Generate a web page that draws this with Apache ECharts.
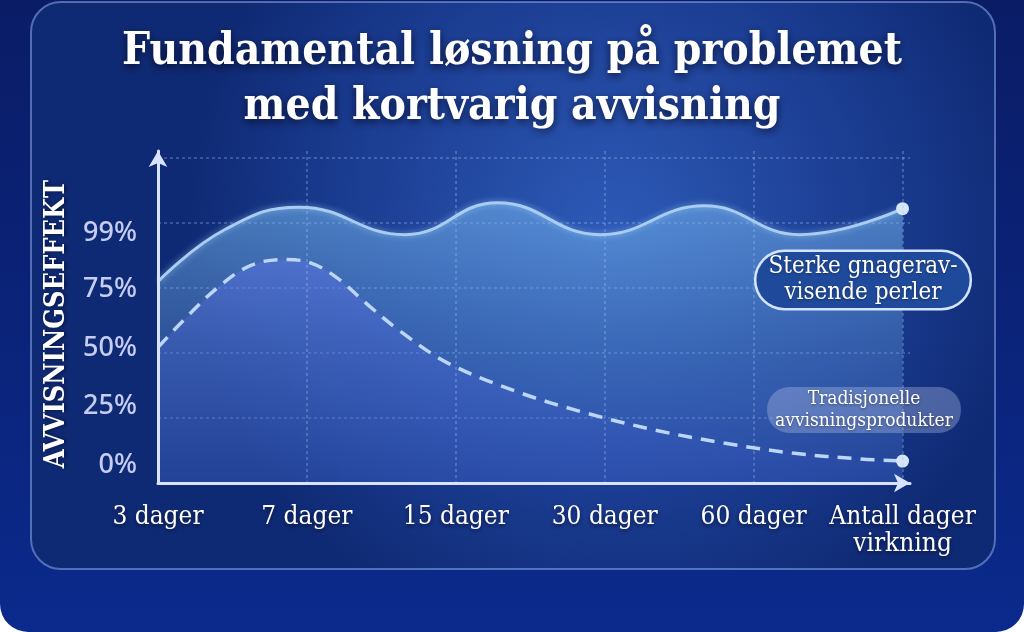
<!DOCTYPE html>
<html><head><meta charset="utf-8">
<script src="https://cdn.jsdelivr.net/npm/echarts@6/dist/echarts.min.js"></script>
<style>html,body{margin:0;padding:0;background:#ffffff;}#c{width:1024px;height:632px;}</style>
</head><body><div id="c"></div>
<script>
const titleText = 'Fundamental løsning på problemet\nmed kortvarig avvisning';
const yAxisName = 'AVVISNINGSEFFEKT';
const categories = ['3 dager', '7 dager', '15 dager', '30 dager', '60 dager', 'Antall dager\nvirkning'];
const yTickValues = [0, 25, 50, 75, 99];
const strongLabel = 'Sterke gnagerav-\nvisende perler';
const tradLabel = 'Tradisjonelle\navvisningsprodukter';

// x = position along the category axis (0 = 3 dager ... 5 = end), y = effect in %
const strongX = [0, 0.45, 0.95, 1.66, 2.28, 2.97, 3.67, 4.31, 5];
const strongY = [78.3, 100.5, 110.0, 98.3, 111.9, 98.3, 110.6, 98.3, 109.4];
const tradX = [0, 0.17, 0.40, 0.62, 0.84, 1.02, 1.20, 1.40, 1.62, 1.95, 2.42, 2.88, 3.34, 3.80, 4.26, 4.72, 5];
const tradY = [50.2, 61.7, 75.7, 85.1, 87.7, 86.4, 80.0, 68.9, 57.4, 43.4, 31.1, 22.1, 14.9, 9.4, 5.1, 2.6, 1.7];

const strongData = strongX.map((x, i) => [x, strongY[i]]);
const tradData = tradX.map((x, i) => [x, tradY[i]]);

const chart = echarts.init(document.getElementById('c'), null, {renderer: 'canvas'});
const serif = 'DejaVu Serif Condensed';
const gridLine = {show: true, lineStyle: {color: 'rgba(170,195,245,0.38)', width: 1.5, type: [3, 3]}, showMinLine: false, showMaxLine: false};

chart.setOption({
  backgroundColor: 'transparent',
  animation: false,
  graphic: [
    {type: 'rect', z: -20, shape: {x: 0, y: 0, width: 1024, height: 632, r: [0, 0, 28, 28]},
     style: {fill: new echarts.graphic.LinearGradient(0, 0, 0, 1, [{offset: 0, color: '#0a1c66'}, {offset: 1, color: '#0b2a8c'}])}, silent: true},
    {type: 'rect', z: -19, shape: {x: 31, y: 2, width: 964, height: 567, r: 30},
     style: {fill: new echarts.graphic.RadialGradient(0.6, 0.4, 0.75, [{offset: 0, color: '#2d5ab6'}, {offset: 0.6, color: '#1b3d92'}, {offset: 1, color: '#0f2a74'}]),
       stroke: 'rgba(140,170,235,0.55)', lineWidth: 2}, silent: true},
    {type: 'text', z: 50, x: 57, y: 324, rotation: Math.PI / 2,
     style: {text: yAxisName, fill: '#ffffff', font: 'bold 27px "DejaVu Serif Condensed"', align: 'center', verticalAlign: 'middle',
       textShadowColor: 'rgba(0,0,20,0.6)', textShadowBlur: 4, textShadowOffsetX: 2}},
    {type: 'text', z: 50, x: 863, y: 280,
     style: {text: strongLabel, fill: '#ffffff', font: '24px "DejaVu Serif Condensed"', align: 'center', verticalAlign: 'middle', lineHeight: 26,
       backgroundColor: '#1f4a9c', borderColor: '#d4e4ff', borderWidth: 2.5, borderRadius: 28, padding: [2, 12, 2, 12],
       textShadowColor: 'rgba(0,0,0,0.4)', textShadowBlur: 3, textShadowOffsetY: 1}},
    {type: 'text', z: 50, x: 864, y: 410,
     style: {text: tradLabel, fill: '#ffffff', font: '19px "DejaVu Serif Condensed"', align: 'center', verticalAlign: 'middle', lineHeight: 22,
       backgroundColor: 'rgba(170,185,225,0.38)', borderRadius: 22, padding: [1, 8, 1, 8],
       textShadowColor: 'rgba(0,0,0,0.4)', textShadowBlur: 3, textShadowOffsetY: 1}}
  ],
  title: {
    text: titleText, left: 'center', top: 20,
    textStyle: {fontFamily: serif, fontWeight: 'bold', fontSize: 44, lineHeight: 55, color: '#ffffff',
      textShadowColor: 'rgba(0,0,20,0.7)', textShadowBlur: 8, textShadowOffsetY: 3}
  },
  grid: {left: 158, right: 1024 - 910, top: 151, bottom: 632 - 483, containLabel: false},
  xAxis: {
    type: 'value', min: 0, max: 5.05, interval: 1, z: 5,
    axisLine: {show: true, onZero: false, symbol: ['none', 'arrow'], symbolSize: [14, 16], lineStyle: {color: '#d8e4ff', width: 3}},
    axisTick: {show: false},
    splitLine: gridLine,
    axisLabel: {
      margin: 21, color: '#ffffff', fontFamily: serif, fontSize: 26, lineHeight: 27,
      textShadowColor: 'rgba(0,0,20,0.6)', textShadowBlur: 4, textShadowOffsetY: 2,
      formatter: v => (Number.isInteger(v) && categories[v] !== undefined) ? categories[v] : '',
      showMaxLabel: false
    }
  },
  yAxis: [
    {
      type: 'value', min: -7.66, max: 134.0, z: 5,
      axisLine: {show: true, onZero: false, symbol: ['none', 'arrow'], symbolSize: [14, 16], lineStyle: {color: '#d8e4ff', width: 3}},
      axisTick: {show: false},
      splitLine: {show: false},
      axisLabel: {customValues: yTickValues, formatter: v => v + '%', margin: 21, color: '#c6cdf2', fontFamily: 'Noto Sans', fontWeight: 500, fontSize: 27}
    },
    {
      type: 'value', min: 0, max: 5.11, interval: 1, position: 'left',
      axisLine: {show: false}, axisTick: {show: false}, axisLabel: {show: false},
      splitLine: gridLine
    }
  ],
  series: [
    {
      type: 'line', name: 'Sterke', data: strongData, smooth: 0.45, yAxisIndex: 0, z: 3,
      symbol: 'circle', symbolSize: (v, p) => p.dataIndex === strongData.length - 1 ? 13 : 0,
      itemStyle: {color: '#d6e6fa'},
      lineStyle: {color: '#a9cdf2', width: 3, shadowColor: 'rgba(170,215,255,0.6)', shadowBlur: 6},
      areaStyle: {origin: 'start', color: new echarts.graphic.LinearGradient(0, 0, 0, 1, [
        {offset: 0, color: 'rgba(120,185,240,0.78)'}, {offset: 0.5, color: 'rgba(95,150,215,0.55)'}, {offset: 1, color: 'rgba(70,110,210,0.45)'}])}
    },
    {
      type: 'line', name: 'Tradisjonelle', data: tradData, smooth: 0.35, yAxisIndex: 0, z: 4,
      symbol: 'circle', symbolSize: (v, p) => p.dataIndex === tradData.length - 1 ? 13 : 0,
      itemStyle: {color: '#d6e6fa'},
      lineStyle: {color: '#bcd6f8', width: 3.5, type: [14, 9]},
      areaStyle: {origin: 'start', color: new echarts.graphic.LinearGradient(0, 0, 0, 1, [
        {offset: 0, color: 'rgba(95,115,235,0.6)'}, {offset: 1, color: 'rgba(60,90,210,0.12)'}])}
    }
  ]
});
</script></body></html>
